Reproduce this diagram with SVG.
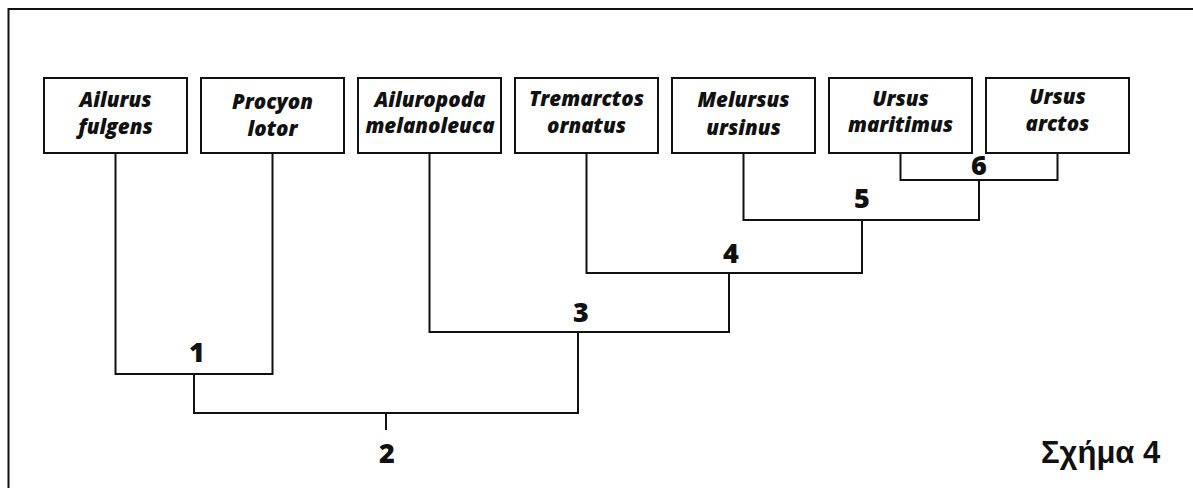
<svg xmlns="http://www.w3.org/2000/svg" width="1193" height="488" viewBox="0 0 1193 488">
  <style>
    .box { fill: #fff; stroke: #111; stroke-width: 2; }
    .frame { fill: none; stroke: #111; stroke-width: 2; }
    .edge { fill: none; stroke: #111; stroke-width: 2; }
    .name { font-family: "Open Sans", "Liberation Sans", sans-serif; font-weight: 800; font-style: italic; font-size: 20.5px; fill: #111; text-anchor: middle; }
    .num { font-family: "Open Sans", "Liberation Sans", sans-serif; font-weight: 800; font-size: 27px; fill: #111; text-anchor: middle; }
    .title { font-family: "Liberation Sans", "Open Sans", sans-serif; font-weight: 700; font-size: 31px; fill: #111; }
  </style>
  <rect width="1193" height="488" fill="#fff"/>
  <rect class="frame" x="8.5" y="9" width="1200" height="500"/>

  <g id="taxon-ailurus">
    <rect class="box" x="44" y="78" width="143" height="75"/>
    <text class="name" x="115.5" y="107">Ailurus</text>
    <text class="name" x="115.5" y="134">fulgens</text>
  </g>
  <g id="taxon-procyon">
    <rect class="box" x="201" y="78" width="143" height="75"/>
    <text class="name" x="272.5" y="109">Procyon</text>
    <text class="name" x="272.5" y="136">lotor</text>
  </g>
  <g id="taxon-ailuropoda">
    <rect class="box" x="358" y="78" width="143" height="75"/>
    <text class="name" x="430" y="107">Ailuropoda</text>
    <text class="name" x="430" y="133">melanoleuca</text>
  </g>
  <g id="taxon-tremarctos">
    <rect class="box" x="515" y="78" width="143" height="75"/>
    <text class="name" x="586.5" y="106">Tremarctos</text>
    <text class="name" x="586.5" y="133">ornatus</text>
  </g>
  <g id="taxon-melursus">
    <rect class="box" x="672" y="78" width="143" height="75"/>
    <text class="name" x="743.5" y="107">Melursus</text>
    <text class="name" x="743.5" y="135">ursinus</text>
  </g>
  <g id="taxon-ursus-maritimus">
    <rect class="box" x="829" y="78" width="143" height="75"/>
    <text class="name" x="900.5" y="106">Ursus</text>
    <text class="name" x="900.5" y="132">maritimus</text>
  </g>
  <g id="taxon-ursus-arctos">
    <rect class="box" x="986" y="78" width="143" height="75"/>
    <text class="name" x="1057.5" y="104">Ursus</text>
    <text class="name" x="1057.5" y="131">arctos</text>
  </g>

  <g id="connectors">
    <!-- clade 6 -->
    <path class="edge" d="M900.5 153 V180 H1057.5 V153"/>
    <!-- clade 5 -->
    <path class="edge" d="M743.5 153 V220 H979 V180"/>
    <!-- clade 4 -->
    <path class="edge" d="M586.5 153 V273 H862 V220"/>
    <!-- clade 3 -->
    <path class="edge" d="M429.5 153 V332 H729 V273"/>
    <!-- clade 1 -->
    <path class="edge" d="M115.5 153 V374 H272.5 V153"/>
    <!-- clade 2 -->
    <path class="edge" d="M194 374 V413 H578 V332"/>
    <path class="edge" d="M386 413 V430"/>
  </g>

  <g id="clade-labels">
    <text class="num" x="197" y="362">1</text>
    <text class="num" x="387" y="463">2</text>
    <text class="num" x="581" y="322">3</text>
    <text class="num" x="731" y="263">4</text>
    <text class="num" x="862" y="208">5</text>
    <text class="num" x="979" y="175">6</text>
  </g>

  <text class="title" x="1041" y="463">Σχήμα 4</text>
</svg>
